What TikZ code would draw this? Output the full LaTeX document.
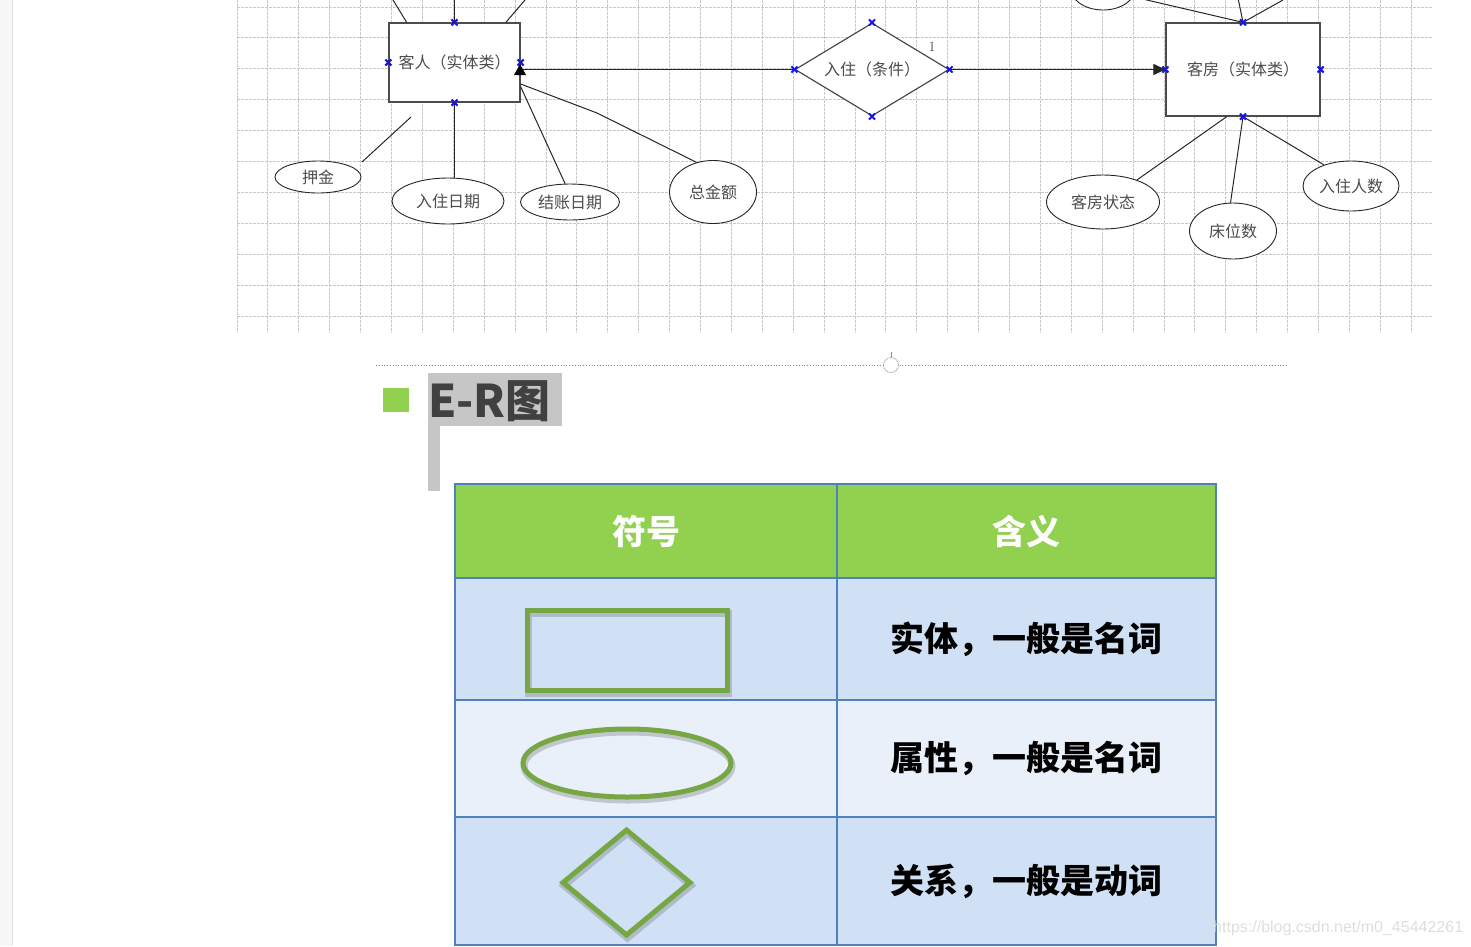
\documentclass[tikz,border=0pt]{standalone}
\usepackage{fontspec}
\newfontfamily\cjk{Noto Sans CJK SC}
\newfontfamily\lsans{Liberation Sans}
\usepackage{tikz}
\usetikzlibrary{arrows.meta, shapes.geometric}
\definecolor{gridgray}{RGB}{200,200,200}
\definecolor{pinblue}{RGB}{20,20,235}
\definecolor{hdgreen}{RGB}{146,208,80}
\definecolor{symgreen}{RGB}{118,167,68}
\definecolor{rowblue}{RGB}{208,224,245}
\definecolor{rowpale}{RGB}{233,240,250}
\definecolor{tabline}{RGB}{79,129,189}
\definecolor{titlegray}{RGB}{64,64,64}
\definecolor{markgray}{RGB}{198,198,198}
\newcommand\erfont{\cjk\fontsize{16}{18}\selectfont}
\newcommand\tabfont{\cjk\bfseries\fontsize{34}{38}\selectfont}
\newcommand\pinmark[1]{\draw[pin] (#1) +(-3,-3) -- +(3,3) +(-3,3) -- +(3,-3);}

\begin{document}
\begin{tikzpicture}[x=1pt, y=-1pt,
    gridline/.style={draw=gridgray, line width=0.9pt, dash pattern=on 2.5pt off 1.5pt},
    entity/.style={draw=black!70, line width=1.2pt, fill=white, inner sep=0pt,
                   font=\erfont, text=black!70},
    attr/.style={ellipse, draw=black!85, line width=0.9pt, fill=white, inner sep=0pt,
                 font=\erfont, text=black!70},
    rel/.style={diamond, aspect=1.66, draw=black!75, line width=1.1pt, fill=white,
                inner sep=0pt, font=\erfont, text=black!70},
    link/.style={draw=black!85, line width=1pt},
    pin/.style={draw=pinblue, line width=2pt},
    cell/.style={draw=tabline, line width=1.3pt, inner sep=0pt},
    headcell/.style={cell, fill=hdgreen, text=white, font=\tabfont},
    bodycell/.style={cell, text=black, font=\tabfont},
    symbol/.style={draw=symgreen, line width=5pt, inner sep=0pt,
                   preaction={draw=black!60, draw opacity=0.3, line width=7pt,
                              transform canvas={xshift=1pt, yshift=-3pt}}}]
  \path[use as bounding box] (0,0) rectangle (1471,946);
  \clip (0,0) rectangle (1471,946);

  % page edge
  \fill[black!3] (0,0) rectangle (12,946);
  \draw[black!12] (12,0) -- (12,946);

  % drawing grid
  \foreach \i in {0,...,38}
    \draw[gridline] (237+30.9*\i,0) -- (237+30.9*\i,333);
  \foreach \j in {0,...,10}
    \draw[gridline] (237,7+30.9*\j) -- (1432,7+30.9*\j);

  % E-R diagram
  \node[entity, minimum width=131, minimum height=79] (kr) at (454.5,62.5) {客人（实体类）};
  \node[rel, minimum width=154, minimum height=93] (dia) at (872,69.5) {入住（条件）};
  \node[entity, minimum width=154, minimum height=93] (kf) at (1243,69.5) {客房（实体类）};

  \node[attr, minimum width=86, minimum height=32] (yj) at (318,177) {押金};
  \node[attr, minimum width=112, minimum height=46] (rzrq) at (448,201) {入住日期};
  \node[attr, minimum width=99, minimum height=36] (jzrq) at (570,202) {结账日期};
  \node[attr, minimum width=87, minimum height=63] (zje) at (713,192) {总金额};
  \node[attr, minimum width=66, minimum height=46] (kftop) at (1103,-13) {};
  \node[attr, minimum width=113, minimum height=54] (kfzt) at (1103,202) {客房状态};
  \node[attr, minimum width=87, minimum height=56] (cws) at (1233,231) {床位数};
  \node[attr, minimum width=96, minimum height=50] (rzrs) at (1351,186) {入住人数};

  \coordinate (kl1) at (393,0);
  \coordinate (kl2) at (454.5,-2);
  \coordinate (kl3) at (525,0);
  \coordinate (kr1) at (1238,-2);
  \coordinate (kr2) at (1283,0);
  \coordinate (yja) at (362,162);
  \coordinate (yjb) at (411,117);

  \draw[link] (kr.140) -- (kl1);
  \draw[link] (kr.north) -- (kl2);
  \draw[link] (kr.38.6) -- (kl3);
  \draw[link] (yja) -- (yjb);
  \draw[link] (kr.south) -- (kr.south |- rzrq.north);
  \draw[link] (kr.-20.5) -- (jzrq.105);
  \draw[link] (kr.-18) -- (597,113) -- (zje.119);
  \draw[link] (dia.west) -- (dia.west -| kr.east);
  \fill[black] (520,64) -- (514,75) -- (526,75) -- cycle;
  \draw[link, -{Triangle[length=12pt, width=11pt]}] (dia.east) -- (dia.east -| kf.west);
  \node[font=\fontsize{14}{16}\selectfont, text=black!75] (one) at (932,47) {1};

  \draw[link] (kf.north) -- (kftop.-18);
  \draw[link] (kf.north) -- (kr1);
  \draw[link] (kf.north) -- (kr2);
  \draw[link] (kf.-109) -- (kfzt.33);
  \draw[link] (kf.south) -- (cws.95);
  \draw[link] (kf.south) -- (rzrs.142);

  \foreach \a in {north, south, east, west} {
    \pinmark{kr.\a}
    \pinmark{dia.\a}
    \pinmark{kf.\a}
  }

  % section divider
  \draw[black!45, dotted, line width=0.8pt] (376,365) -- (1288,365);
  \node[circle, draw=black!45, fill=white, minimum size=15, inner sep=0pt] (knob) at (891,365) {};
  \draw[black!45, line width=0.8pt] (knob.north) -- ++(0,-5);

  % heading
  \fill[markgray] (428,373) rectangle (562,426);
  \fill[markgray] (428,426) rectangle (440,491);
  \fill[hdgreen] (383,388) rectangle (409,412);
  \node[anchor=west, inner sep=0pt, text=titlegray,
        font=\cjk\bfseries\fontsize{45}{48}\selectfont] (title) at (428,401) {E-R图};

  % symbol table
  \node[headcell, minimum width=382, minimum height=94] (h1) at (646,531) {符号};
  \node[headcell, minimum width=379, minimum height=94] (h2) at (1026.5,531) {含义};
  \node[bodycell, fill=rowblue, minimum width=382, minimum height=122] (c11) at (646,639) {};
  \node[bodycell, fill=rowblue, minimum width=379, minimum height=122] (c12) at (1026.5,639) {实体，一般是名词};
  \node[bodycell, fill=rowpale, minimum width=382, minimum height=117] (c21) at (646,758.5) {};
  \node[bodycell, fill=rowpale, minimum width=379, minimum height=117] (c22) at (1026.5,758.5) {属性，一般是名词};
  \node[bodycell, fill=rowblue, minimum width=382, minimum height=128] (c31) at (646,881) {};
  \node[bodycell, fill=rowblue, minimum width=379, minimum height=128] (c32) at (1026.5,881) {关系，一般是动词};

  \node[symbol, rectangle, minimum width=200, minimum height=80] (srect) at (627,650) {};
  \node[symbol, ellipse, minimum width=208, minimum height=68] (sell) at (627,763) {};
  \node[symbol, diamond, minimum width=129, minimum height=107] (sdia) at (626.5,882.5) {};

  \node[anchor=west, inner sep=0pt, text=black!13,
        font=\lsans\fontsize{16}{18}\selectfont] (mark) at (1213,928) {https://blog.csdn.net/m0\_45442261};
\end{tikzpicture}
\end{document}
